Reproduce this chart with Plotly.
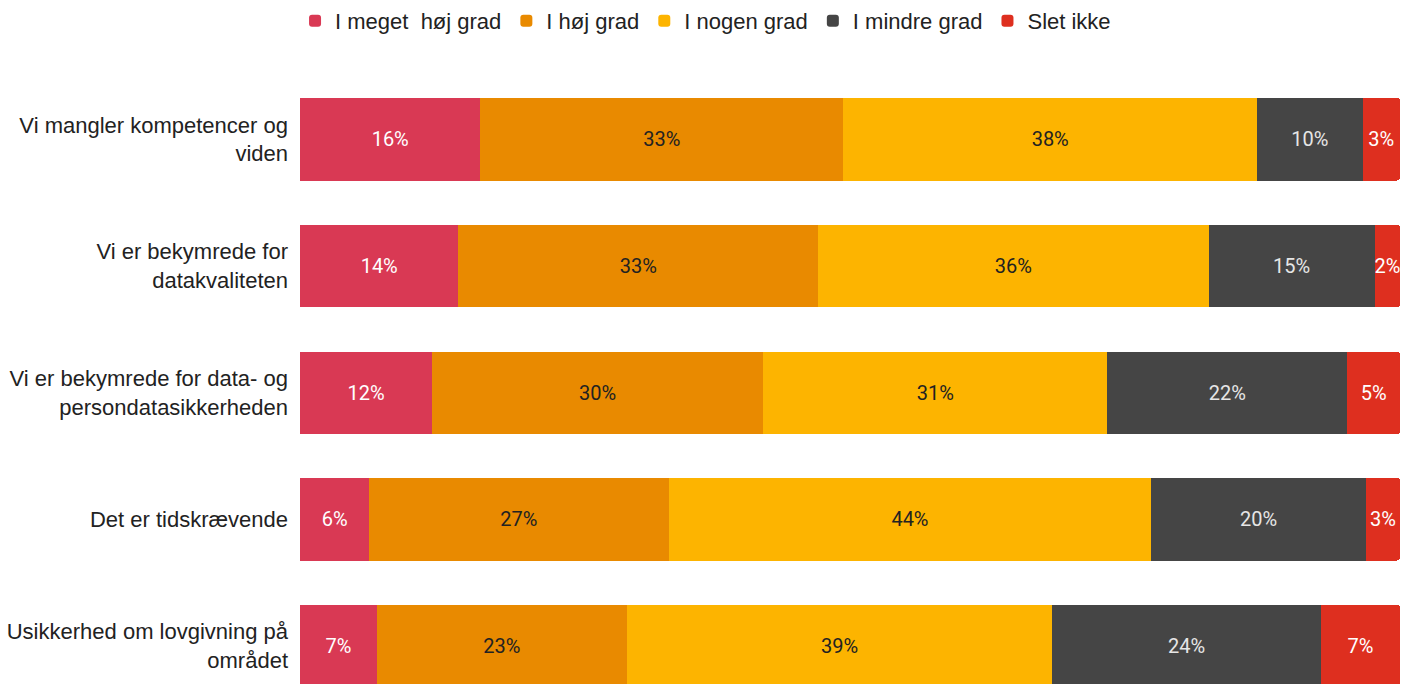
import plotly.graph_objects as go

categories = [
    "Vi mangler kompetencer og<br>viden",
    "Vi er bekymrede for<br>datakvaliteten",
    "Vi er bekymrede for data- og<br>persondatasikkerheden",
    "Det er tidskrævende",
    "Usikkerhed om lovgivning på<br>området",
]
series_names = ["I meget\u00a0 høj grad", "I høj grad", "I nogen grad", "I mindre grad", "Slet ikke"]
meget_hoej = [16.4, 14.4, 12.0, 6.3, 7.0]
hoej = [33.0, 32.7, 30.1, 27.2, 22.7]
nogen = [37.6, 35.5, 31.3, 43.9, 38.7]
mindre = [9.6, 15.1, 21.8, 19.5, 24.4]
slet_ikke = [3.4, 2.3, 4.8, 3.1, 7.2]
labels = [
    [16, 14, 12, 6, 7],
    [33, 33, 30, 27, 23],
    [38, 36, 31, 44, 39],
    [10, 15, 22, 20, 24],
    [3, 2, 5, 3, 7],
]

colors = ["#d93954", "#e98a00", "#fdb400", "#454545", "#de2f1f"]
text_colors = ["#ffffff", "#222222", "#222222", "#e6e6e6", "#ffffff"]

fig = go.Figure()
for name, vals, lab, c, tc in zip(series_names, [meget_hoej, hoej, nogen, mindre, slet_ikke], labels, colors, text_colors):
    fig.add_trace(go.Bar(
        y=categories, x=vals, name=name, orientation="h",
        marker=dict(color=c, line=dict(width=0)),
        text=[f"{v}%" for v in lab], textposition="inside", insidetextanchor="middle",
        constraintext="none", textangle=0,
        textfont=dict(family="Roboto", size=20, color=tc),
        hoverinfo="skip",
    ))

fig.update_layout(
    barmode="stack",
    width=1401, height=684,
    margin=dict(l=300, r=1, t=76, b=0),
    plot_bgcolor="white", paper_bgcolor="white",
    bargap=0.35,
    barcornerradius=3,
    font=dict(family="Liberation Sans, Arial", size=22, color="#222222"),
    legend=dict(orientation="h", x=0.5036, xanchor="center", xref="container",
                y=0.9693, yanchor="middle", yref="container",
                font=dict(family="Liberation Sans, Arial", size=22, color="#222222"),
                itemwidth=30, traceorder="normal"),
    showlegend=True,
)
fig.update_xaxes(range=[0, 100], visible=False, showgrid=False, zeroline=False)
fig.update_yaxes(categoryorder="array", categoryarray=categories,
                 range=[4.30, -0.5], showgrid=False, ticks="",
                 ticklabelstandoff=11,
                 tickfont=dict(family="Liberation Sans, Arial", size=22, color="#222222"))

fig.write_html("out.html", config={"displayModeBar": False},
               post_script="document.body.style.margin='0';document.body.style.overflow='hidden';")
